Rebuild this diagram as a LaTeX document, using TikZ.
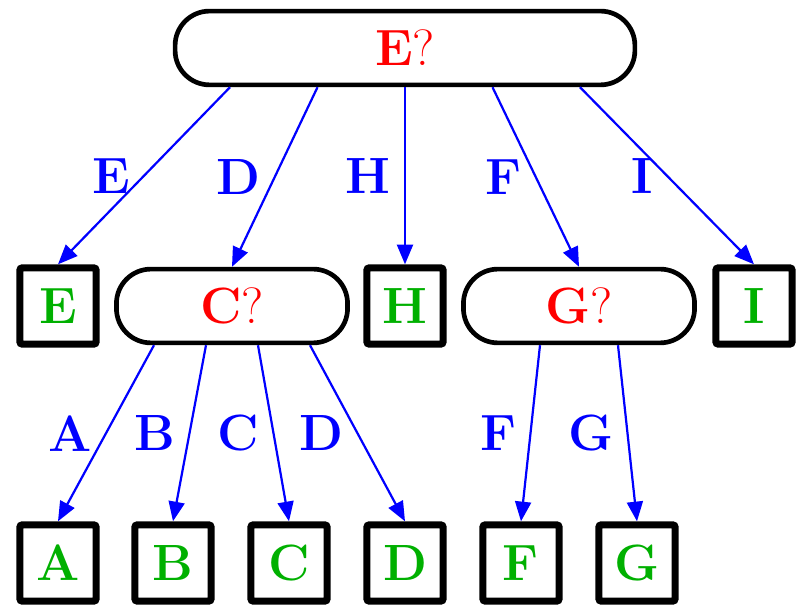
\documentclass[tikz,border=0pt]{standalone}
\usepackage{tikz}
\usetikzlibrary{arrows.meta,calc}
\definecolor{leafgreen}{RGB}{0,176,0}

\tikzset{
  test/.style={draw,line width=1.9pt,rectangle,rounded corners=14pt,minimum height=30pt,text=red,font=\huge},
  leaf/.style={draw,line width=2.9pt,rectangle,rounded corners=1pt,minimum size=31pt,inner sep=0pt,text=leafgreen,font=\huge\bfseries},
  branch/.style={draw=blue,line width=0.9pt,-{Triangle[length=8pt,width=6.5pt]}},
  lab/.style={midway,left=2pt,text=blue,font=\huge\bfseries}
}

\begin{document}
\begin{tikzpicture}[x=0.4067pt,y=-0.4067pt]
	\useasboundingbox (0,0) rectangle (796,606);
	% questions
	\node[test,minimum width=187pt] (qE) at (405,48) {\textbf{E}?};
	\node[test,minimum width=94pt] (qC) at (232,306) {\textbf{C}?};
	\node[test,minimum width=94pt] (qG) at (579,306) {\textbf{G}?};
	% answers
	\node[leaf] (lE) at (58,306) {E};
	\node[leaf] (lH) at (405,306) {H};
	\node[leaf] (lI) at (754,306) {I};
	\node[leaf] (lA) at (58,563) {A};
	\node[leaf] (lB) at (173,563) {B};
	\node[leaf] (lC) at (289,563) {C};
	\node[leaf] (lD) at (405,563) {D};
	\node[leaf] (lF) at (521,563) {F};
	\node[leaf] (lG) at (637,563) {G};
	% branches
	\draw[branch] ($(qE.south)+(-175,0)$) -- (lE.north) node[lab] {E};
	\draw[branch] ($(qE.south)+(-87.5,0)$) -- (qC.north) node[lab] {D};
	\draw[branch] (qE.south) -- (lH.north) node[lab] {H};
	\draw[branch] ($(qE.south)+(87.5,0)$) -- (qG.north) node[lab] {F};
	\draw[branch] ($(qE.south)+(175,0)$) -- (lI.north) node[lab] {I};
	\draw[branch] ($(qC.south)+(-78,0)$) -- (lA.north) node[lab] {A};
	\draw[branch] ($(qC.south)+(-26,0)$) -- (lB.north) node[lab] {B};
	\draw[branch] ($(qC.south)+(26,0)$) -- (lC.north) node[lab] {C};
	\draw[branch] ($(qC.south)+(78,0)$) -- (lD.north) node[lab] {D};
	\draw[branch] ($(qG.south)+(-39,0)$) -- (lF.north) node[lab] {F};
	\draw[branch] ($(qG.south)+(39,0)$) -- (lG.north) node[lab] {G};
\end{tikzpicture}
\end{document}
